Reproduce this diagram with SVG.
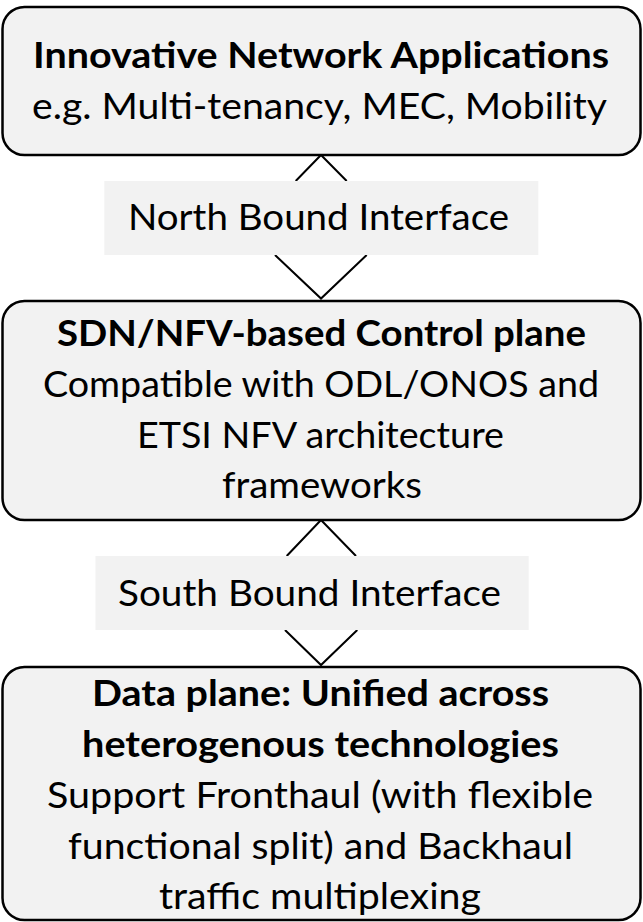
<svg xmlns="http://www.w3.org/2000/svg" width="643" height="922" viewBox="0 0 643 922">
  <style>
    .box { fill: #f2f2f2; stroke: #000000; stroke-width: 2.5; }
    .lbl { fill: #f2f2f2; stroke: none; }
    .chev { fill: none; stroke: #000000; stroke-width: 2; stroke-linejoin: miter; }
    text { font-family: Lato, "Open Sans", "Liberation Sans", sans-serif; font-size: 37px; fill: #000000; text-anchor: middle; }
    .b { font-weight: bold; }
  </style>
  <rect width="643" height="922" fill="#ffffff"/>

  <g id="connectors">
    <polyline class="chev" points="295.7,181 321,155 346.7,181"/>
    <polyline class="chev" points="275,255 321,298.5 366.7,255"/>
    <polyline class="chev" points="286.7,556 321,520 356,556"/>
    <polyline class="chev" points="285,630 321,665 357.3,630"/>
    <g id="label-north">
      <rect class="lbl" x="104.3" y="181" width="434" height="74"/>
      <text x="318.5" y="230" textLength="381" lengthAdjust="spacingAndGlyphs">North Bound Interface</text>
    </g>
    <g id="label-south">
      <rect class="lbl" x="95.5" y="556" width="433.2" height="74"/>
      <text x="309.5" y="606" textLength="383" lengthAdjust="spacingAndGlyphs">South Bound Interface</text>
    </g>
  </g>

  <g id="node-applications">
    <rect class="box" x="2.5" y="7" width="638" height="148" rx="22" ry="22"/>
    <text class="b" x="321" y="68" textLength="576" lengthAdjust="spacingAndGlyphs">Innovative Network Applications</text>
    <text x="319.5" y="119" textLength="575" lengthAdjust="spacingAndGlyphs">e.g. Multi-tenancy, MEC, Mobility</text>
  </g>

  <g id="node-control">
    <rect class="box" x="2.5" y="301" width="638" height="219" rx="22" ry="22"/>
    <text class="b" x="321.5" y="346" textLength="529" lengthAdjust="spacingAndGlyphs">SDN/NFV-based Control plane</text>
    <text x="321" y="397" textLength="556" lengthAdjust="spacingAndGlyphs">Compatible with ODL/ONOS and</text>
    <text x="320.5" y="448" textLength="367" lengthAdjust="spacingAndGlyphs">ETSI NFV architecture</text>
    <text x="322" y="498" textLength="200" lengthAdjust="spacingAndGlyphs">frameworks</text>
  </g>

  <g id="node-data">
    <rect class="box" x="2.5" y="667" width="638" height="253" rx="22" ry="22"/>
    <text class="b" x="320.5" y="706" textLength="457" lengthAdjust="spacingAndGlyphs">Data plane: Unified across</text>
    <text class="b" x="320.5" y="757" textLength="477" lengthAdjust="spacingAndGlyphs">heterogenous technologies</text>
    <text x="320" y="808" textLength="546" lengthAdjust="spacingAndGlyphs">Support Fronthaul (with flexible</text>
    <text x="320.5" y="859" textLength="505" lengthAdjust="spacingAndGlyphs">functional split) and Backhaul</text>
    <text x="320" y="909" textLength="322" lengthAdjust="spacingAndGlyphs">traffic multiplexing</text>
  </g>
</svg>
